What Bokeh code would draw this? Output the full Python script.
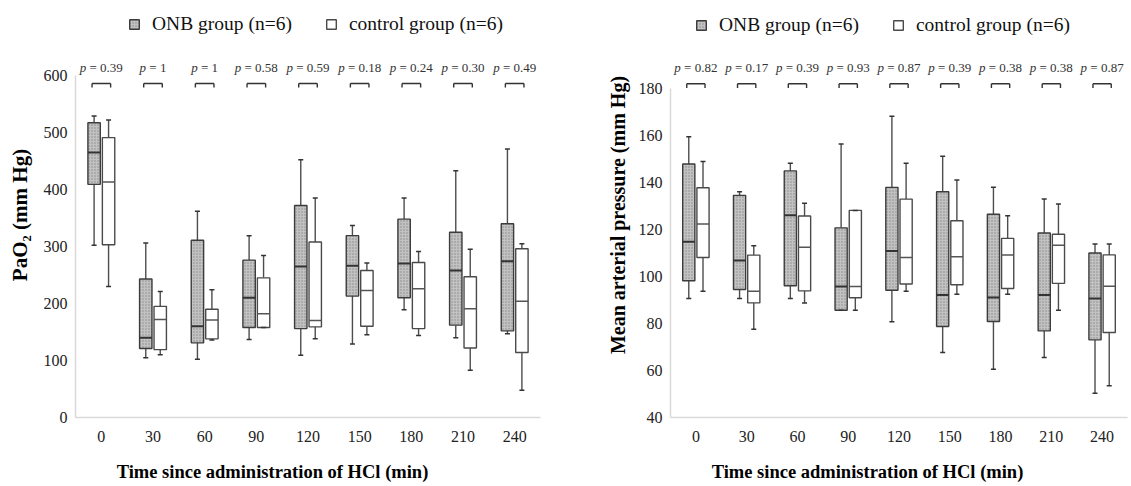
from bokeh.plotting import figure
from bokeh.models import (FactorRange, Range1d, FixedTicker, ColumnDataSource,
                          Legend, LegendItem)
from bokeh.transform import dodge
from bokeh.layouts import row, column
from bokeh.embed import file_html
from bokeh.resources import INLINE
from bokeh.core.properties import value

# ---------------- data ----------------
TIMES = ["0", "30", "60", "90", "120", "150", "180", "210", "240"]

# PaO2 (mm Hg) - ONB group
PAO2_ONB_LO = [302, 105, 102, 137, 109, 129, 189, 140, 147]
PAO2_ONB_Q1 = [409, 121, 131, 158, 156, 213, 210, 162, 152]
PAO2_ONB_MED = [465, 140, 160, 210, 265, 266, 270, 258, 274]
PAO2_ONB_Q3 = [517, 243, 311, 276, 372, 319, 348, 325, 340]
PAO2_ONB_HI = [529, 306, 362, 319, 452, 337, 385, 433, 471]
# PaO2 (mm Hg) - control group
PAO2_CTL_LO = [230, 110, 136, 158, 138, 145, 144, 83, 48]
PAO2_CTL_Q1 = [303, 119, 138, 158, 159, 160, 156, 122, 114]
PAO2_CTL_MED = [413, 172, 171, 182, 170, 223, 226, 191, 204]
PAO2_CTL_Q3 = [491, 195, 190, 245, 308, 258, 272, 247, 296]
PAO2_CTL_HI = [522, 221, 224, 284, 385, 271, 291, 295, 305]
PAO2_P = ["0.39", "1", "1", "0.58", "0.59", "0.18", "0.24", "0.30", "0.49"]
PAO2_TICKS = [0, 100, 200, 300, 400, 500, 600]

# Mean arterial pressure (mm Hg) - ONB group
MAP_ONB_LO = [90.6, 90.6, 90.6, 85.6, 80.7, 67.6, 60.5, 65.5, 50.3]
MAP_ONB_Q1 = [98.1, 94.4, 96.0, 85.6, 94.1, 78.7, 80.8, 76.8, 73.0]
MAP_ONB_MED = [114.7, 106.7, 125.9, 95.7, 110.7, 92.1, 91.0, 92.1, 90.6]
MAP_ONB_Q3 = [147.7, 134.4, 144.8, 120.6, 137.8, 135.9, 126.4, 118.4, 109.9]
MAP_ONB_HI = [159.3, 135.9, 148.0, 156.2, 168.0, 151.0, 137.8, 132.8, 113.7]
# Mean arterial pressure (mm Hg) - control group
MAP_CTL_LO = [93.6, 77.5, 88.7, 85.6, 93.6, 92.4, 92.4, 85.6, 53.5]
MAP_CTL_Q1 = [108.0, 88.7, 93.8, 90.9, 96.7, 96.4, 94.8, 97.0, 76.1]
MAP_CTL_MED = [122.2, 93.7, 112.3, 95.7, 108.0, 108.3, 109.1, 113.2, 95.8]
MAP_CTL_Q3 = [137.6, 109.0, 125.6, 128.0, 132.8, 123.6, 116.1, 117.9, 109.1]
MAP_CTL_HI = [148.8, 113.0, 131.0, 128.0, 148.0, 140.9, 125.7, 130.7, 113.7]
MAP_P = ["0.82", "0.17", "0.39", "0.93", "0.87", "0.39", "0.38", "0.38", "0.87"]
MAP_TICKS = [40, 60, 80, 100, 120, 140, 160, 180]

X_TITLE = "Time since administration of HCl (min)"
LEGEND_LABELS = ["ONB group (n=6)", "control group (n=6)"]

# ---------------- style ----------------
SERIF = "Liberation Serif"
OFF = 0.14
BOX_W = 0.24
P_FS = 13.0
CW = {"0": 0.5, "1": 0.5, "2": 0.5, "3": 0.5, "4": 0.5, "5": 0.5, "6": 0.5,
      "7": 0.5, "8": 0.5, "9": 0.5, ".": 0.25, " ": 0.25, "=": 0.564, "p": 0.5}
HEIGHT = 452          # chart part
TITLE_H = 34          # strip holding the x-axis title below each chart


def text_w(s):
    return sum(CW.get(c, 0.5) for c in s) * P_FS


def panel(ylabel, ylabel_size, onb, ctl, pvals, yr, ticks, p_y, br_top, br_bot,
          width, bl, br, bb, legend_loc, ylab_standoff):
    p = figure(x_range=FactorRange(*TIMES), y_range=Range1d(*yr),
               width=width, height=HEIGHT, output_backend="svg",
               toolbar_location=None, min_border_left=bl, min_border_right=br,
               min_border_top=12, min_border_bottom=bb)
    p.outline_line_color = None
    p.xgrid.visible = False
    p.ygrid.visible = False

    for ax in (p.xaxis[0], p.yaxis[0]):
        ax.axis_line_color = "#d9d9d9"
        ax.axis_line_width = 1.5
        ax.major_tick_line_color = None
        ax.minor_tick_line_color = None
        ax.major_tick_out = 0
        ax.major_tick_in = 0
        ax.minor_tick_out = 0
        ax.major_label_text_font = SERIF
        ax.major_label_text_font_size = "16px"
        ax.major_label_text_color = "#222222"
        ax.axis_label_text_font = SERIF
        ax.axis_label_text_font_style = "bold"
        ax.axis_label_text_color = "#000000"

    p.yaxis.ticker = FixedTicker(ticks=ticks)
    p.yaxis.bounds = (ticks[0], ticks[-1])
    p.yaxis.major_label_standoff = 8
    p.yaxis.axis_label = ylabel
    p.yaxis.axis_label_text_font_size = ylabel_size
    p.yaxis.axis_label_standoff = ylab_standoff

    p.xaxis.major_label_standoff = 13

    renderers = []
    for vals, off, is_onb in ((onb, -OFF, True), (ctl, OFF, False)):
        lo, q1, med, q3, hi = vals
        src = ColumnDataSource(dict(t=TIMES, lo=lo, q1=q1, med=med, q3=q3, hi=hi))
        xc = dodge("t", off, range=p.x_range)
        p.segment(x0=xc, x1=xc, y0="q3", y1="hi", source=src,
                  line_color="#4d4d4d", line_width=1.4)
        p.segment(x0=xc, x1=xc, y0="lo", y1="q1", source=src,
                  line_color="#4d4d4d", line_width=1.4)
        if is_onb:
            r = p.vbar(x=xc, width=BOX_W, top="q3", bottom="q1", source=src,
                       fill_color="#c2c2c2", line_color="#3c3c3c", line_width=1.4,
                       hatch_pattern="dot", hatch_color="#8a8a8a",
                       hatch_scale=3, hatch_weight=1)
            mcol, mw = "#333333", 2.0
        else:
            r = p.vbar(x=xc, width=BOX_W, top="q3", bottom="q1", source=src,
                       fill_color="#ffffff", line_color="#4a4a4a", line_width=1.4)
            mcol, mw = "#555555", 1.5
        renderers.append(r)
        p.segment(x0=dodge("t", off - BOX_W / 2, range=p.x_range),
                  x1=dodge("t", off + BOX_W / 2, range=p.x_range),
                  y0="med", y1="med", source=src, line_color=mcol, line_width=mw)
        p.scatter(x=xc, y="hi", source=src, marker="dash", size=5,
                  line_color="#333333", line_width=1.5)
        p.scatter(x=xc, y="lo", source=src, marker="dash", size=5,
                  line_color="#333333", line_width=1.5)

    # p-value brackets
    bsrc = ColumnDataSource(dict(t=TIMES, top=[br_top] * len(TIMES),
                                 bot=[br_bot] * len(TIMES)))
    xl = dodge("t", -0.18, range=p.x_range)
    xr = dodge("t", 0.18, range=p.x_range)
    p.segment(x0=xl, x1=xr, y0="top", y1="top", source=bsrc,
              line_color="#333333", line_width=1.4)
    p.segment(x0=xl, x1=xl, y0="top", y1="bot", source=bsrc,
              line_color="#333333", line_width=1.4)
    p.segment(x0=xr, x1=xr, y0="top", y1="bot", source=bsrc,
              line_color="#333333", line_width=1.4)

    # p-value texts ("p" italic, rest normal)
    rest = ["= " + v for v in pvals]
    totals = [text_w("p ") + text_w(s) for s in rest]
    psrc = ColumnDataSource(dict(
        t=TIMES, y=[p_y] * len(TIMES), p=["p"] * len(TIMES), rest=rest,
        xo_p=[-w / 2 for w in totals],
        xo_r=[-w / 2 + text_w("p ") for w in totals]))
    p.text(x="t", y="y", text="p", source=psrc, x_offset="xo_p",
           text_font=value(SERIF), text_font_style="italic",
           text_font_size=f"{P_FS}px", text_align="left",
           text_baseline="middle", text_color="#333333")
    p.text(x="t", y="y", text="rest", source=psrc, x_offset="xo_r",
           text_font=value(SERIF), text_font_size=f"{P_FS}px",
           text_align="left", text_baseline="middle", text_color="#333333")

    legend = Legend(items=[LegendItem(label=LEGEND_LABELS[0], renderers=[renderers[0]]),
                           LegendItem(label=LEGEND_LABELS[1], renderers=[renderers[1]])],
                    orientation="horizontal", location=legend_loc, padding=0, margin=0,
                    spacing=33, label_standoff=12, glyph_width=12, glyph_height=12,
                    label_height=20,
                    label_text_font=SERIF, label_text_font_size="19.5px",
                    label_text_color="#111111",
                    border_line_color=None, background_fill_alpha=0)
    p.add_layout(legend)
    return p


def title_strip(width, x_center):
    t = figure(x_range=Range1d(0, width), y_range=Range1d(0, TITLE_H),
               width=width, height=TITLE_H, output_backend="svg",
               toolbar_location=None, x_axis_type=None, y_axis_type=None,
               min_border=0)
    t.outline_line_color = None
    t.grid.visible = False
    t.text(x=[x_center], y=[TITLE_H - 19], text=[X_TITLE],
           text_font=value(SERIF), text_font_style="bold",
           text_font_size="18.5px", text_color="#000000",
           text_align="center", text_baseline="middle")
    return t


p1 = panel("PaO₂ (mm Hg)", "21px",
           (PAO2_ONB_LO, PAO2_ONB_Q1, PAO2_ONB_MED, PAO2_ONB_Q3, PAO2_ONB_HI),
           (PAO2_CTL_LO, PAO2_CTL_Q1, PAO2_CTL_MED, PAO2_CTL_Q3, PAO2_CTL_HI),
           PAO2_P, (0, 710.5), PAO2_TICKS, 614, 586, 579,
           width=570, bl=75, br=30, bb=HEIGHT - 418, legend_loc=(53, 382),
           ylab_standoff=9)

p2 = panel("Mean arterial pressure (mm Hg)", "20px",
           (MAP_ONB_LO, MAP_ONB_Q1, MAP_ONB_MED, MAP_ONB_Q3, MAP_ONB_HI),
           (MAP_CTL_LO, MAP_CTL_Q1, MAP_CTL_MED, MAP_CTL_Q3, MAP_CTL_HI),
           MAP_P, (40, 212.1), MAP_TICKS, 188.6, 181.8, 180.0,
           width=561, bl=100, br=4, bb=HEIGHT - 417, legend_loc=(25, 381),
           ylab_standoff=7)

t1 = title_strip(570, 272)
t2 = title_strip(561, 297)

layout = column(row(p1, p2), row(t1, t2))
open("out.html", "w").write(file_html(layout, INLINE))
